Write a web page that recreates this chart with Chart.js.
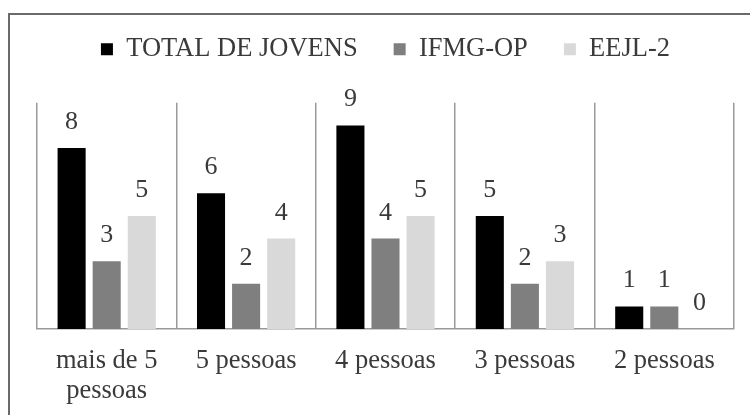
<!DOCTYPE html>
<html>
<head>
<meta charset="utf-8">
<script src="https://cdn.jsdelivr.net/npm/chart.js@4"></script>
<style>
  html, body { margin: 0; padding: 0; background: #ffffff; overflow: hidden; width: 750px; height: 415px; }
  #frame { position: absolute; left: 8px; top: 13px; width: 800px; height: 500px; border-left: 2px solid #6a6a6a; border-top: 2px solid #6a6a6a; box-sizing: border-box; }
  #wrap { position: absolute; left: 10px; top: 0px; width: 760px; height: 433px; }
</style>
</head>
<body>
<div id="frame"></div>
<div id="wrap"><canvas id="c" width="760" height="433"></canvas></div>
<script>
// Household size categories and counts per group
const categories = [["mais de 5", "pessoas"], "5 pessoas", "4 pessoas", "3 pessoas", "2 pessoas"];
const seriesNames = ["TOTAL DE JOVENS", "IFMG-OP", "EEJL-2"];
const totalJovens = [8, 6, 9, 5, 1];
const ifmgOp = [3, 2, 4, 2, 1];
const eejl2 = [5, 4, 5, 3, 0];
const yTicks = [0, 10];

const serif = "Liberation Serif";
const textColor = "#3a3a3a";
const lineColor = "#999999";

Chart.defaults.font.family = serif;

// Writes each bar's value above it
const valueLabels = {
  id: "valueLabels",
  afterDatasetsDraw(chart) {
    const ctx = chart.ctx;
    ctx.save();
    ctx.font = "26px 'Liberation Serif'";
    ctx.fillStyle = textColor;
    ctx.textAlign = "center";
    ctx.textBaseline = "alphabetic";
    chart.data.datasets.forEach((ds, i) => {
      const meta = chart.getDatasetMeta(i);
      meta.data.forEach((bar, j) => {
        ctx.fillText(String(ds.data[j]), bar.x, bar.y - 19);
      });
    });
    ctx.restore();
  }
};

new Chart(document.getElementById("c"), {
  type: "bar",
  data: {
    labels: categories,
    datasets: [
      { label: seriesNames[0], data: totalJovens, backgroundColor: "#000000" },
      { label: seriesNames[1], data: ifmgOp, backgroundColor: "#7f7f7f" },
      { label: seriesNames[2], data: eejl2, backgroundColor: "#d9d9d9" }
    ]
  },
  options: {
    responsive: false,
    animation: false,
    devicePixelRatio: 1,
    layout: { padding: { left: 27, right: 36, top: 0, bottom: 10 } },
    datasets: { bar: { barPercentage: 0.8, categoryPercentage: 0.755 } },
    plugins: {
      legend: {
        position: "top",
        weight: 3000,
        labels: {
          boxWidth: 12,
          boxHeight: 12,
          padding: 36,
          color: textColor,
          font: { family: serif, size: 26.5 }
        }
      },
      // empty block that separates the legend from the plot
      title: {
        display: true,
        text: "",
        weight: 2000,
        font: { size: 10, lineHeight: 1.2 },
        padding: { top: 0, bottom: 18.25 }
      },
      tooltip: { enabled: false }
    },
    scales: {
      x: {
        grid: { display: true, offset: true, color: lineColor, lineWidth: 1.5, drawTicks: false },
        border: { display: true, color: lineColor, width: 1.5 },
        ticks: { color: textColor, padding: 17, maxRotation: 0, autoSkip: false, font: { family: serif, size: 26.5, lineHeight: 1.13 } }
      },
      y: {
        display: false,
        min: yTicks[0],
        max: yTicks[1]
      }
    }
  },
  plugins: [valueLabels]
});
</script>
</body>
</html>
